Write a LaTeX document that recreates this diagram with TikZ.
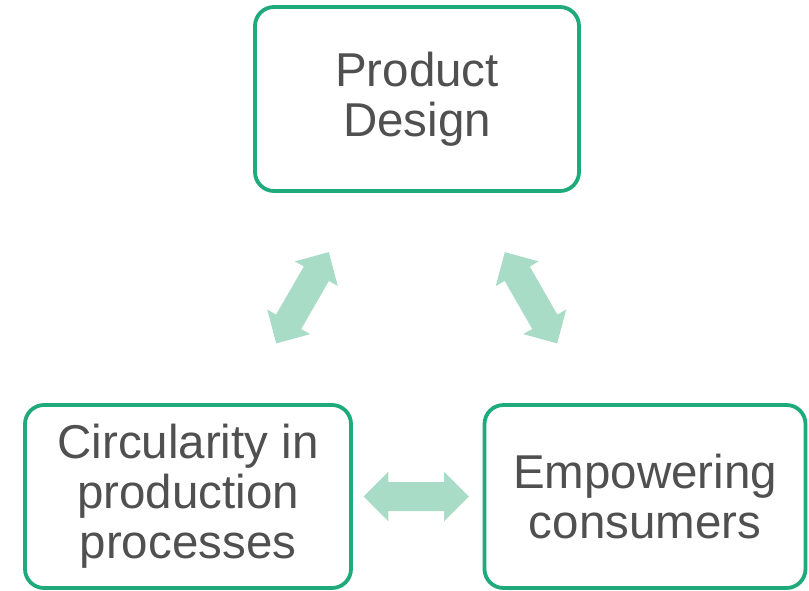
\documentclass[tikz,border=0pt]{standalone}
\usepackage{fontspec}
\setmainfont{Liberation Sans}
\usepackage{tikz}
\tikzset{>=latex}
\usetikzlibrary{calc,arrows.meta,positioning}

\definecolor{boxgreen}{HTML}{1FAA7B}
\definecolor{arrowgreen}{HTML}{A9DCC6}
\definecolor{textgray}{HTML}{505050}

\tikzset{
  stage/.style={draw=boxgreen, line width=3.8pt, rounded corners=19pt, fill=white,
    align=center, text=textgray, inner sep=0pt,
    font=\fontsize{47.5}{50}\selectfont},
  link/.style={draw=arrowgreen, line width=29pt,
    {Triangle[width=48pt,length=25pt]}-{Triangle[width=48pt,length=25pt]}}
}

\begin{document}
\begin{tikzpicture}[x=1pt,y=-1pt]
            \useasboundingbox (0,0) rectangle (809,590);
            \clip (0,0) rectangle (809,590);

            \node[stage, minimum width=324pt, minimum height=184pt] (pd) at (417,99) {Product\\Design};
            \node[stage, minimum width=326pt, minimum height=183pt] (cp) at (188,496.5) {Circularity in\\production\\processes};
            \node[stage, minimum width=321pt, minimum height=183pt] (ec) at (645,496.5) {Empowering\\consumers};

            \draw[link] ($(pd)!0.385!(cp)$) -- ($(pd)!0.615!(cp)$);
            \draw[link] ($(pd)!0.385!(ec)$) -- ($(pd)!0.615!(ec)$);
            \draw[link] ($(cp)!0.384!(ec)$) -- ($(cp)!0.615!(ec)$);
        \end{tikzpicture}
\end{document}
